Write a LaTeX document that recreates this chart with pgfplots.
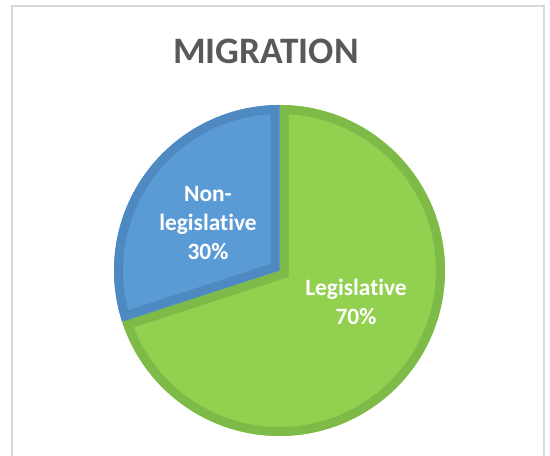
\documentclass[border=0pt]{standalone}
\usepackage{pgfplots}
\usepackage{pgfplotstable}
\pgfplotsset{compat=1.18}
\usepackage{fontspec}
\setmainfont[Ligatures={NoCommon}]{Carlito}
\definecolor{gfill}{HTML}{92D050}
\definecolor{gline}{HTML}{7DBA48}
\definecolor{bfill}{HTML}{5B9BD5}
\definecolor{bline}{HTML}{4E89C2}
\definecolor{ttl}{HTML}{595959}
\definecolor{frm}{HTML}{D9D9D9}
\pgfplotstableread{
label value
Legislative 70
Non-legislative 30
}\piedata
\pgfplotstablegetelem{0}{value}\of\piedata \let\vA\pgfplotsretval
\pgfplotstablegetelem{1}{value}\of\piedata \let\vB\pgfplotsretval
\begin{document}
\begin{tikzpicture}
\useasboundingbox (0,0) rectangle (550bp,456bp);
\begin{axis}[
  at={(0,0)}, anchor=south west,
  scale only axis, width=550bp, height=456bp,
  xmin=0, xmax=550, ymin=0, ymax=456,
  hide axis, clip=false,
]
\pgfmathsetmacro{\angA}{90-3.6*\vA}
\pgfmathsetmacro{\angB}{90+3.6*\vB}
\def\R{165.5bp}
% frame
\draw[frm, line width=1.5bp] (axis cs:12,-20) rectangle (axis cs:544,450);
% title
\node[ttl, font=\fontsize{37.5}{40}\selectfont\bfseries] at (axis cs:266,405) {MIGRATION};
% green wedge
\fill[gfill] (axis cs:279.5,185.5) -- ++(90:\R) arc[start angle=90, end angle=\angA, radius=\R] -- cycle;
\begin{scope}
\clip (axis cs:279.5,185.5) -- ++(90:\R) arc[start angle=90, end angle=\angA, radius=\R] -- cycle;
\draw[gline, line width=18bp, line join=miter] (axis cs:279.5,185.5) -- ++(90:\R) arc[start angle=90, end angle=\angA, radius=\R] -- cycle;
\end{scope}
% blue wedge
\fill[bfill] (axis cs:279.5,185.5) -- ++(90:\R) arc[start angle=90, end angle=\angB, radius=\R] -- cycle;
\begin{scope}
\clip (axis cs:279.5,185.5) -- ++(90:\R) arc[start angle=90, end angle=\angB, radius=\R] -- cycle;
\draw[bline, line width=18bp, line join=miter] (axis cs:279.5,185.5) -- ++(90:\R) arc[start angle=90, end angle=\angB, radius=\R] -- cycle;
\end{scope}
% labels
\node[white, font=\fontsize{23.5}{29.5}\selectfont\bfseries, align=center] at (axis cs:356,154) {Legislative\\70\%};
\node[white, font=\fontsize{23.5}{29.5}\selectfont\bfseries, align=center] at (axis cs:208,233) {Non-\\legislative\\30\%};
\end{axis}
\end{tikzpicture}
\end{document}
